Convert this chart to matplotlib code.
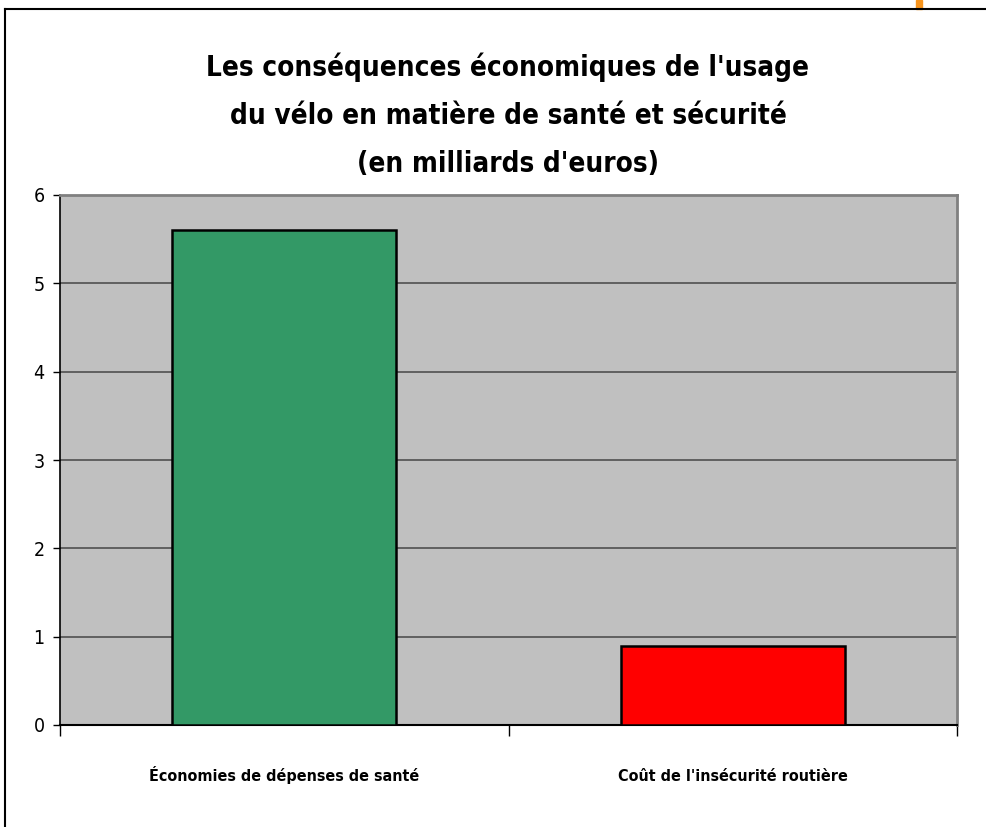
import matplotlib.pyplot as plt
from matplotlib import font_manager
from matplotlib.lines import Line2D
from matplotlib.patches import Rectangle

# Data
categories = ["Économies de dépenses de santé", "Coût de l'insécurité routière"]
values = [5.6, 0.9]
colors = ["#339966", "#FF0000"]
yticks = [0, 1, 2, 3, 4, 5, 6]

# look for a condensed face among installed fonts
cond = [f for f in font_manager.fontManager.ttflist
        if 'ondensed' in str(f.stretch) or 'arrow' in f.name or 'ondensed' in f.fname]
if cond:
    fam = cond[0].name
    stretch = 'condensed'
else:
    fam = 'Liberation Sans'
    stretch = 'normal'
plt.rcParams['font.family'] = [fam, 'DejaVu Sans']
plt.rcParams['font.stretch'] = stretch

W, H = 986, 827
fig = plt.figure(figsize=(W / 100, H / 100), dpi=100)
fig.patch.set_facecolor("white")

# plot area in pixels: x 60-957, y 195-725
ax = fig.add_axes([60 / W, 1 - 725 / H, (957 - 60) / W, (725 - 195) / H])
ax.set_facecolor("#C0C0C0")

x = range(len(categories))
ax.bar(x, values, width=0.5, color=colors, edgecolor="black", linewidth=1.8, zorder=3)

ax.set_xlim(-0.5, len(categories) - 0.5)
ax.set_ylim(0, 6)
ax.set_yticks(yticks)
ax.set_yticklabels([str(v) for v in yticks], fontsize=14)
ax.yaxis.grid(True, color="#505050", linewidth=1.2, zorder=1)
ax.set_axisbelow(True)

# category ticks at boundaries
ax.set_xticks([-0.5, 0.5, 1.5])
ax.set_xticklabels([])
ax.tick_params(axis="x", direction="out", length=8, width=1, color="black")
ax.tick_params(axis="y", direction="out", length=5, width=1, color="black", pad=6)
for i, cat in enumerate(categories):
    ax.text(i, -0.635, cat, ha="center", va="baseline", fontsize=11.5,
            fontweight="bold", transform=ax.transData)

ax.spines["left"].set_color("black")
ax.spines["bottom"].set_color("black")
ax.spines["left"].set_linewidth(1.2)
ax.spines["bottom"].set_linewidth(1.5)
ax.spines["top"].set_color("#808080")
ax.spines["right"].set_color("#808080")
ax.spines["top"].set_linewidth(2)
ax.spines["right"].set_linewidth(2)

fig.text(508 / W, 1 - 115 / H,
         "Les conséquences économiques de l'usage\ndu vélo en matière de santé et sécurité\n(en milliards d'euros)",
         ha="center", va="center", fontsize=20, fontweight="bold", linespacing=1.9)

# slide frame lines
fig.add_artist(Line2D([5 / W, 1], [1 - 9 / H, 1 - 9 / H], color="black", linewidth=1.5,
                      transform=fig.transFigure))
fig.add_artist(Line2D([5 / W, 5 / W], [0, 1 - 9 / H], color="black", linewidth=1.5,
                      transform=fig.transFigure))
fig.add_artist(Rectangle((916 / W, 1 - 9 / H), 6 / W, 9 / H, color="#F7941D",
                         transform=fig.transFigure))

fig.savefig("out.png", dpi=100)
